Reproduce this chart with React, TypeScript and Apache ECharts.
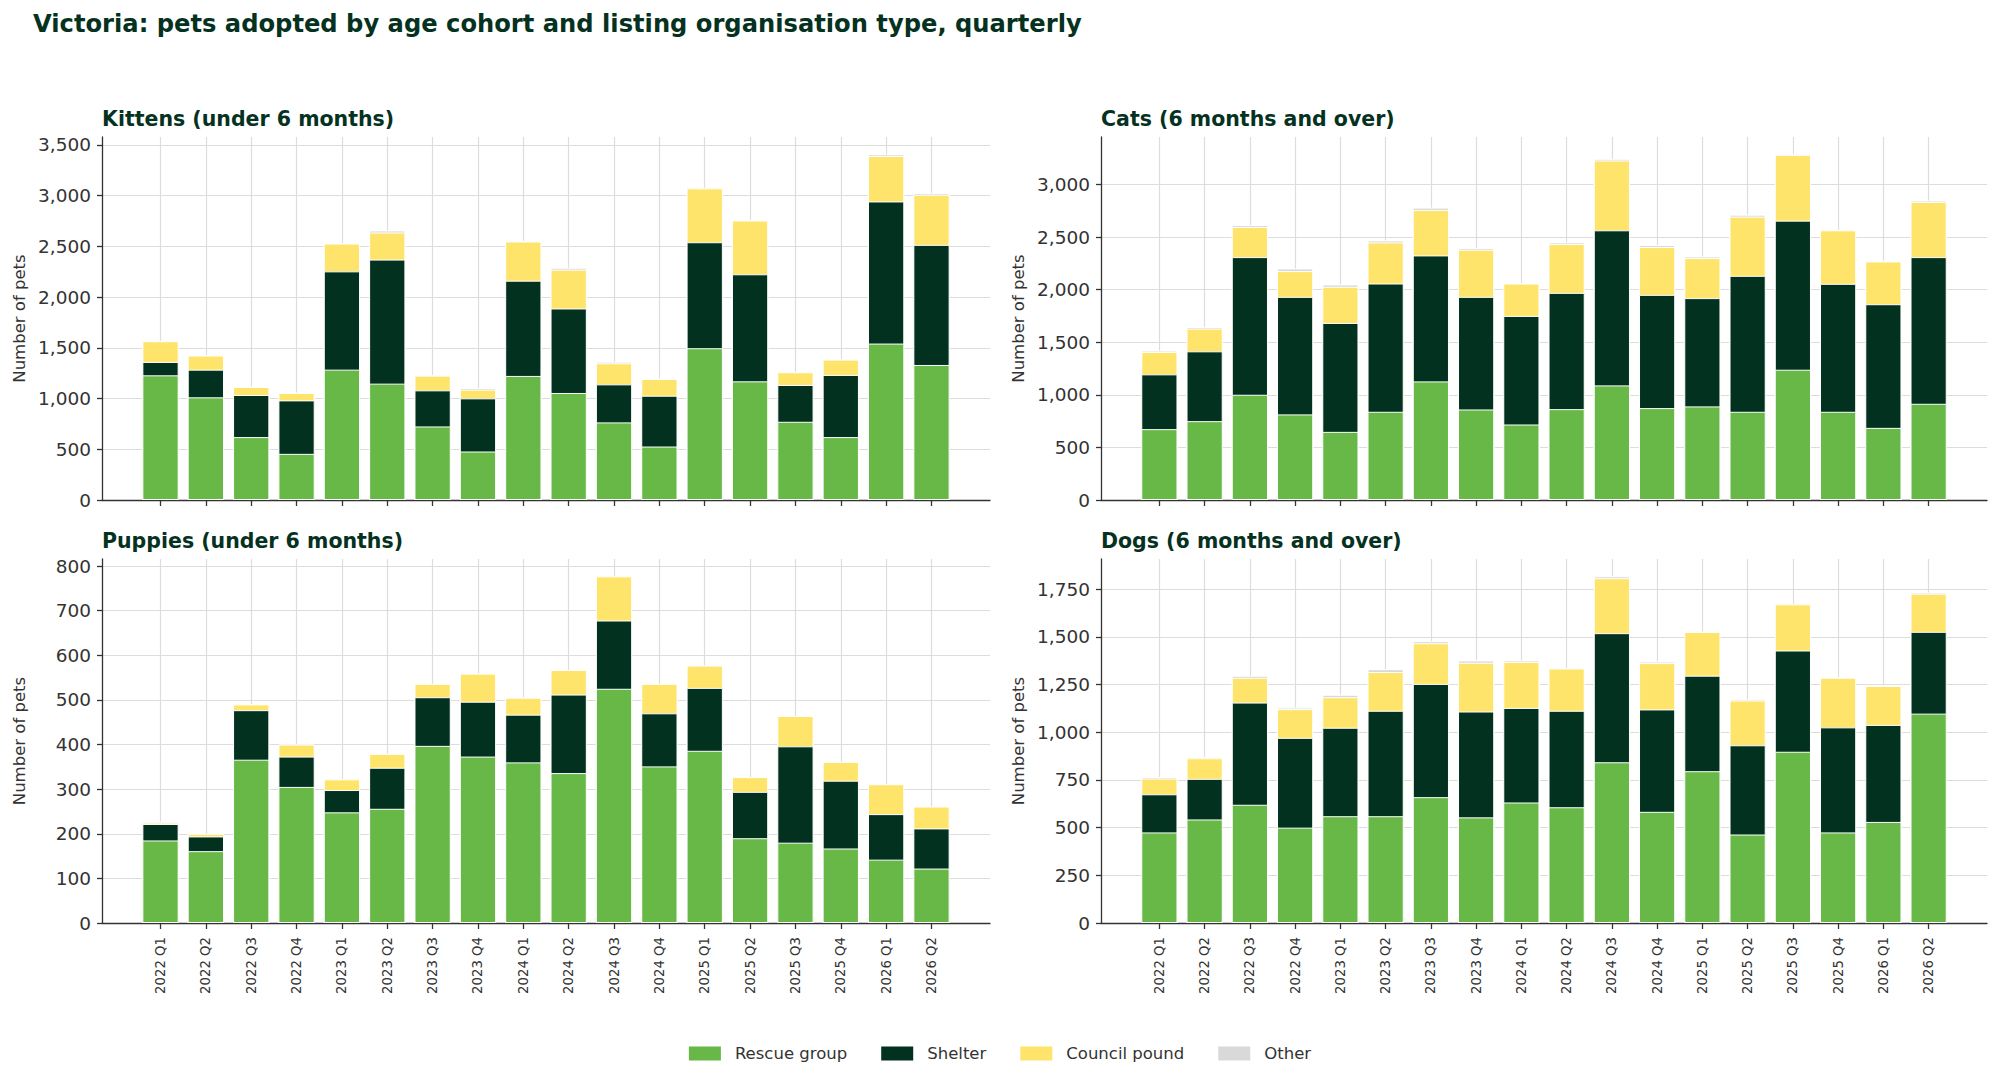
import React, { useEffect, useRef } from 'react';
import * as echarts from 'echarts';

const categories = [
  '2022 Q1', '2022 Q2', '2022 Q3', '2022 Q4',
  '2023 Q1', '2023 Q2', '2023 Q3', '2023 Q4',
  '2024 Q1', '2024 Q2', '2024 Q3', '2024 Q4',
  '2025 Q1', '2025 Q2', '2025 Q3', '2025 Q4',
  '2026 Q1', '2026 Q2',
];

const seriesNames = ['Rescue group', 'Shelter', 'Council pound', 'Other'];

// Kittens (under 6 months)
const kittensRescue = [1229, 1012, 620, 455, 1285, 1147, 725, 478, 1223, 1055, 765, 527, 1496, 1170, 771, 620, 1542, 1331];
const kittensShelter = [132, 273, 415, 527, 969, 1223, 356, 524, 939, 833, 375, 501, 1045, 1055, 363, 613, 1401, 1184];
const kittensCouncil = [204, 139, 79, 73, 274, 267, 145, 86, 386, 383, 208, 165, 531, 530, 125, 151, 448, 494];
const kittensOther = [5, 4, 4, 4, 4, 20, 5, 16, 6, 19, 16, 5, 6, 5, 5, 4, 17, 16];

// Cats (6 months and over)
const catsRescue = [674, 750, 1001, 814, 648, 839, 1128, 861, 718, 864, 1090, 874, 890, 839, 1239, 839, 686, 915];
const catsShelter = [521, 664, 1309, 1118, 1036, 1220, 1198, 1071, 1033, 1106, 1475, 1077, 1030, 1293, 1418, 1217, 1176, 1395];
const catsCouncil = [213, 216, 287, 245, 344, 391, 433, 448, 308, 464, 664, 455, 381, 563, 626, 509, 407, 525];
const catsOther = [13, 16, 18, 25, 22, 19, 22, 16, 5, 16, 16, 19, 16, 19, 5, 5, 5, 13];

// Puppies (under 6 months)
const puppiesRescue = [185, 161, 366, 305, 248, 256, 397, 373, 360, 336, 525, 351, 386, 190, 180, 167, 142, 122];
const puppiesShelter = [37, 33, 111, 68, 50, 92, 109, 123, 107, 176, 153, 119, 141, 104, 216, 152, 102, 90];
const puppiesCouncil = [3, 6, 13, 27, 24, 31, 30, 63, 38, 55, 99, 66, 50, 33, 68, 42, 67, 49];
const puppiesOther = [2, 0, 0, 0, 0, 0, 0, 0, 0, 0, 0, 0, 0, 0, 0, 0, 0, 0];

// Dogs (6 months and over)
const dogsRescue = [475, 543, 620, 500, 560, 560, 660, 554, 632, 607, 843, 583, 796, 464, 898, 475, 530, 1098];
const dogsShelter = [200, 213, 536, 471, 464, 553, 594, 555, 496, 506, 677, 537, 501, 468, 531, 551, 509, 429];
const dogsCouncil = [83, 108, 130, 151, 160, 203, 213, 256, 241, 222, 288, 243, 229, 235, 242, 260, 204, 200];
const dogsOther = [8, 7, 11, 8, 13, 15, 11, 12, 8, 2, 10, 8, 4, 6, 3, 2, 3, 6];

const kittensTicks = [0, 500, 1000, 1500, 2000, 2500, 3000, 3500];
const catsTicks = [0, 500, 1000, 1500, 2000, 2500, 3000];
const puppiesTicks = [0, 100, 200, 300, 400, 500, 600, 700, 800];
const dogsTicks = [0, 250, 500, 750, 1000, 1250, 1500, 1750];

const COLORS = ['#67b846', '#02311f', '#ffe46b', '#d9d9d9'];
const TITLE_COLOR = '#05321f';
const TEXT_COLOR = '#333333';
const AXIS_COLOR = '#333333';
const GRID_COLOR = '#dddddd';
const FONT = 'DejaVu Sans';

const panels = [
  { title: 'Kittens (under 6 months)', values: [kittensRescue, kittensShelter, kittensCouncil, kittensOther], ticks: kittensTicks, left: 102, top: 137, width: 888, height: 363, showX: false },
  { title: 'Cats (6 months and over)', values: [catsRescue, catsShelter, catsCouncil, catsOther], ticks: catsTicks, left: 1101, top: 137, width: 886, height: 363, showX: false },
  { title: 'Puppies (under 6 months)', values: [puppiesRescue, puppiesShelter, puppiesCouncil, puppiesOther], ticks: puppiesTicks, left: 102, top: 559, width: 888, height: 364, showX: true },
  { title: 'Dogs (6 months and over)', values: [dogsRescue, dogsShelter, dogsCouncil, dogsOther], ticks: dogsTicks, left: 1101, top: 559, width: 886, height: 364, showX: true },
];

function buildOption() {
  const n = categories.length;
  const xIdx = categories.map((_, i) => i);
  const barSpan = n - 1 + 0.8;
  const xMin = -0.4 - 0.05 * barSpan;
  const xMax = n - 1 + 0.4 + 0.05 * barSpan;

  const grid: any[] = [];
  const xAxis: any[] = [];
  const yAxis: any[] = [];
  const series: any[] = [];
  const graphic: any[] = [
    {
      type: 'text', x: 33, y: 24,
      style: { text: 'Victoria: pets adopted by age cohort and listing organisation type, quarterly', fill: TITLE_COLOR, font: `bold 24.2px "${FONT}"`, verticalAlign: 'middle', align: 'left' },
    },
  ];

  panels.forEach((p, i) => {
    // cumulative tops of each stacked segment, computed from the data
    const cumulative = p.values.map((_, k) =>
      categories.map((__, j) => p.values.slice(0, k + 1).reduce((s, arr) => s + arr[j], 0))
    );
    const yMax = Math.max(...cumulative[cumulative.length - 1]) * 1.05;
    const barWidth = (0.8 * p.width) / (xMax - xMin);
    grid.push({ left: p.left, top: p.top, width: p.width, height: p.height, containLabel: false });
    xAxis.push({
      type: 'value', gridIndex: i, min: xMin, max: xMax,
      axisLine: { show: true, onZero: false, lineStyle: { color: AXIS_COLOR, width: 1.3 } },
      axisTick: { show: true, customValues: xIdx, length: 6, lineStyle: { color: AXIS_COLOR, width: 1.3 } },
      axisLabel: {
        show: p.showX, customValues: xIdx, rotate: 90, margin: 14,
        formatter: (v: number) => categories[Math.round(v)] ?? '',
        fontSize: 13.3, color: TEXT_COLOR, fontFamily: FONT,
      },
      splitLine: { show: true, lineStyle: { color: GRID_COLOR, width: 1.2 } },
    });
    yAxis.push({
      type: 'value', gridIndex: i, min: 0, max: yMax,
      axisLine: { show: true, onZero: false, lineStyle: { color: AXIS_COLOR, width: 1.3 } },
      axisTick: { show: true, customValues: p.ticks, length: 5, lineStyle: { color: AXIS_COLOR, width: 1.3 } },
      axisLabel: {
        customValues: p.ticks, margin: 11,
        formatter: (v: number) => Math.round(v).toLocaleString('en-US'),
        fontSize: 18.5, color: TEXT_COLOR, fontFamily: FONT,
      },
      splitLine: { show: true, lineStyle: { color: GRID_COLOR, width: 1.2 } },
      name: 'Number of pets', nameLocation: 'middle', nameGap: 74,
      nameTextStyle: { fontSize: 16.5, color: TEXT_COLOR, fontFamily: FONT },
    });
    // draw tallest cumulative first so lower segments sit on top
    for (let k = p.values.length - 1; k >= 0; k--) {
      series.push({
        type: 'bar', name: seriesNames[k], xAxisIndex: i, yAxisIndex: i,
        barWidth,
        barGap: '-100%',
        data: cumulative[k].map((v, j) => [j, v]),
        itemStyle: { color: COLORS[k], borderColor: '#ffffff', borderWidth: 1 },
        emphasis: { disabled: true },
      });
    }
    graphic.push({
      type: 'text', x: p.left, y: p.top - 18,
      style: { text: p.title, fill: TITLE_COLOR, font: `bold 20.5px "${FONT}"`, verticalAlign: 'middle', align: 'left' },
    });
  });

  return {
    animation: false,
    backgroundColor: '#ffffff',
    textStyle: { fontFamily: FONT },
    grid, xAxis, yAxis, series, graphic,
    legend: {
      data: seriesNames.map((name, k) => ({ name, itemStyle: { color: COLORS[k], borderWidth: 0 } })),
      left: 'center', top: 1040,
      icon: 'rect', itemWidth: 32, itemHeight: 14, itemGap: 34,
      textStyle: { fontSize: 16.5, color: TEXT_COLOR, fontFamily: FONT, padding: [0, 0, 0, 9] },
      selectedMode: false,
    },
  };
}

export default function App() {
  const ref = useRef<HTMLDivElement>(null);
  useEffect(() => {
    if (!ref.current) return;
    const chart = echarts.init(ref.current, undefined, { renderer: 'svg' });
    chart.setOption(buildOption() as any);
    return () => chart.dispose();
  }, []);
  return (
    <div
      ref={ref}
      style={{ position: 'fixed', left: 0, top: 0, width: 2000, height: 1082, background: '#ffffff' }}
    />
  );
}
